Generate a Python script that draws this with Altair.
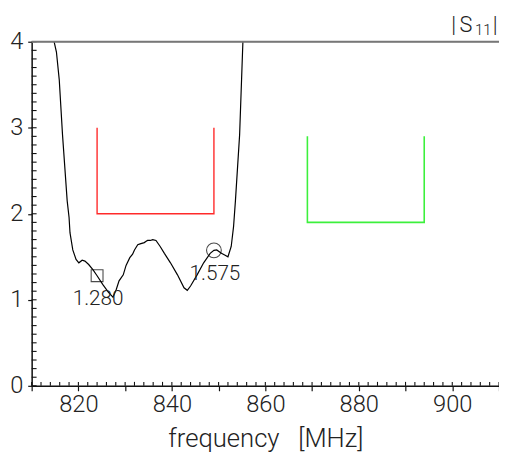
import altair as alt
import pandas as pd

# ---- data ----
freq = [814.8, 815.3, 815.9, 816.6, 817.6, 818.0, 818.2, 818.8, 819.5, 820.1, 820.8, 821.4,
        822.2, 823.1, 824.0, 825.2, 826.4, 827.4, 828.1, 828.7, 829.6, 830.2, 831.0, 831.6,
        832.0, 832.7, 833.2, 834.1, 834.5, 834.8, 835.4, 835.9, 836.6, 837.5, 838.4, 839.7,
        841.2, 842.6, 843.3, 844.0, 845.4, 846.8, 848.2, 849.0, 849.6, 850.6, 851.3, 852.0,
        852.7, 853.2, 853.6, 854.5, 855.2]
s11 = [4.00, 3.88, 3.56, 2.92, 2.15, 1.96, 1.78, 1.58, 1.47, 1.43, 1.46, 1.45,
       1.41, 1.35, 1.28, 1.18, 1.09, 1.03, 1.12, 1.22, 1.29, 1.40, 1.49, 1.53,
       1.58, 1.64, 1.65, 1.665, 1.68, 1.69, 1.69, 1.70, 1.69, 1.62, 1.54, 1.43,
       1.29, 1.14, 1.11, 1.16, 1.29, 1.43, 1.54, 1.575, 1.58, 1.54, 1.52, 1.50,
       1.62, 1.85, 2.15, 2.92, 4.00]

red_f = [824, 824, 849, 849]
red_v = [3.0, 2.0, 2.0, 3.0]
green_f = [869, 869, 894, 894]
green_v = [2.9, 1.9, 1.9, 2.9]

marker_f = [824.0, 849.0]
marker_v = [1.280, 1.575]
marker_shape = ["square", "circle"]
marker_lbl = ["1.280", "1.575"]

x_major = list(range(810, 911, 10))
x_minor = list(range(810, 911, 2))
y_major = [i * 0.5 for i in range(9)]
y_minor = [i / 10 for i in range(41)]

W, H = 474, 349
FONT = "Roboto"

xs = alt.Scale(domain=[810, 910], nice=False, zero=False)
ys = alt.Scale(domain=[0, 4], nice=False)

curve_df = pd.DataFrame({"f": freq, "v": s11, "o": range(len(freq))})
red_df = pd.DataFrame({"f": red_f, "v": red_v, "o": range(4)})
green_df = pd.DataFrame({"f": green_f, "v": green_v, "o": range(4)})
mk_df = pd.DataFrame({"f": marker_f, "v": marker_v, "s": marker_shape, "t": marker_lbl})

xaxis = alt.Axis(values=x_major, format="d",
                 labelExpr="datum.value % 20 === 0 ? datum.label : ''",
                 title="frequency\u00a0\u00a0\u00a0[MHz]", tickSize=5, labelFontSize=24, labelFont=FONT,
                 labelFontWeight=300, labelColor="#222", labelPadding=2,
                 titleFont=FONT, titleFontSize=26, titleFontWeight=300, titleColor="#222",
                 titlePadding=10, domainColor="#111", domainWidth=1.5, tickColor="#111",
                 tickWidth=1.2, grid=False, labelFlush=False)
yaxis = alt.Axis(values=y_major, format="d",
                 labelExpr="datum.value % 1 === 0 ? datum.label : ''",
                 title=None, tickSize=4, labelFontSize=24, labelFont=FONT,
                 labelFontWeight=300, labelColor="#222", labelPadding=5,
                 domainColor="#111", domainWidth=1.5, tickColor="#111", tickWidth=1.2,
                 grid=False)

base_x = alt.X("f:Q", scale=xs, axis=xaxis)
base_y = alt.Y("v:Q", scale=ys, axis=yaxis)

curve = alt.Chart(curve_df).mark_line(color="black", strokeWidth=1.2).encode(
    x=base_x, y=base_y, order="o:Q")
red = alt.Chart(red_df).mark_line(color="#ff2a2a", strokeWidth=1.4).encode(
    x="f:Q", y="v:Q", order="o:Q")
green = alt.Chart(green_df).mark_line(color="#3cf03c", strokeWidth=1.6).encode(
    x="f:Q", y="v:Q", order="o:Q")
markers = alt.Chart(mk_df).mark_point(color="black", filled=False, strokeWidth=1.1).encode(
    x="f:Q", y="v:Q",
    shape=alt.Shape("s:N", scale=alt.Scale(domain=["square", "circle"], range=["square", "circle"]), legend=None),
    size=alt.Size("s:N", scale=alt.Scale(domain=["square", "circle"], range=[144, 225]), legend=None))
labels = alt.Chart(mk_df).mark_text(font=FONT, fontWeight=300, fontSize=21, color="#222",
                                    baseline="middle", dy=24, dx=1).encode(
    x="f:Q", y="v:Q", text="t:N")

xminor_df = pd.DataFrame({"f": x_minor})
xminor = alt.Chart(xminor_df).mark_rule(color="#111", strokeWidth=1.1).encode(
    x="f:Q", y=alt.value(H), y2=alt.value(H - 4))
yminor_df = pd.DataFrame({"v": y_minor})
yminor = alt.Chart(yminor_df).mark_rule(color="#111", strokeWidth=1.1).encode(
    y="v:Q", x=alt.value(0), x2=alt.value(5))

top_df = pd.DataFrame({"v": [4.0]})
topline = alt.Chart(top_df).mark_rule(color="#777", strokeWidth=2).encode(y="v:Q")

s_bar1 = alt.Chart(pd.DataFrame({"t": ["|"]})).mark_text(
    font=FONT, fontWeight=300, fontSize=22, color="#222", align="center", baseline="alphabetic"
).encode(x=alt.value(428), y=alt.value(-10), text="t:N")
s_S = alt.Chart(pd.DataFrame({"t": ["S"]})).mark_text(
    font=FONT, fontWeight=300, fontSize=22, color="#222", align="center", baseline="alphabetic"
).encode(x=alt.value(440.5), y=alt.value(-10), text="t:N")
s_11 = alt.Chart(pd.DataFrame({"t": ["11"]})).mark_text(
    font=FONT, fontWeight=300, fontSize=15, color="#222", align="center", baseline="alphabetic"
).encode(x=alt.value(458), y=alt.value(-7), text="t:N")
s_bar2 = alt.Chart(pd.DataFrame({"t": ["|"]})).mark_text(
    font=FONT, fontWeight=300, fontSize=22, color="#222", align="center", baseline="alphabetic"
).encode(x=alt.value(470), y=alt.value(-10), text="t:N")

chart = alt.layer(curve, red, green, markers, labels, xminor, yminor, topline,
                  s_bar1, s_S, s_11, s_bar2).properties(
    width=W, height=H,
    autosize=alt.AutoSizeParams(type="none"),
    padding={"left": 24, "top": 31, "right": 0, "bottom": 70},
).configure_view(stroke=None).configure(background="white")

chart.save("out.html", embed_options={"renderer": "svg", "actions": False})
